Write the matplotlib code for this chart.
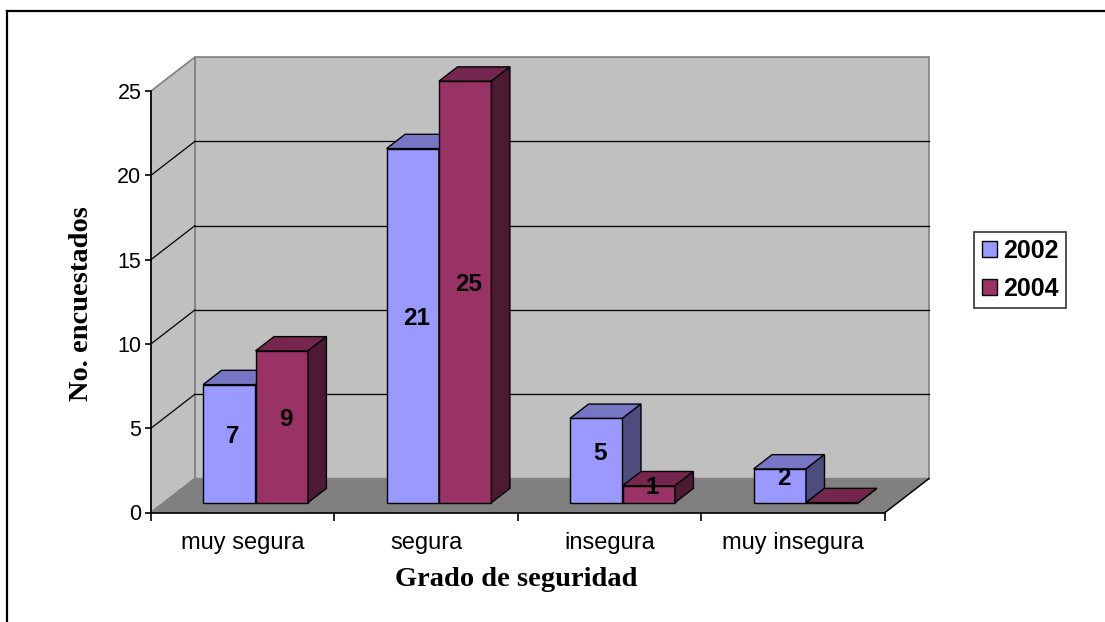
import matplotlib
matplotlib.use("Agg")
import matplotlib.pyplot as plt
from matplotlib.patches import Polygon, Patch
from matplotlib.lines import Line2D

# data
categories = ["muy segura", "segura", "insegura", "muy insegura"]
series_names = ["2002", "2004"]
values_2002 = [7, 21, 5, 2]
values_2004 = [9, 25, 1, 0]
y_ticks = [0, 5, 10, 15, 20, 25]

front_colors = ["#9999FF", "#993366"]
top_colors = ["#7676C4", "#74264E"]
side_colors = ["#4D4D80", "#4D1A33"]

W, H = 1105, 622
fig = plt.figure(figsize=(W / 100, H / 100), dpi=100)
fig.patch.set_facecolor("white")

# front plot area in pixels
x_left, x_right = 151, 885
y_zero, y_top = 512.5, 91
ax = fig.add_axes([x_left / W, (H - y_zero) / H, (x_right - x_left) / W, (y_zero - y_top) / H])
ax.set_xlim(0, len(categories))
ax.set_ylim(0, 25)
ax.patch.set_visible(False)

# depth offset (full depth) in data units
px_per_cat = (x_right - x_left) / len(categories)
px_per_val = (y_zero - y_top) / 25
DX = 44 / px_per_cat
DY = 34 / px_per_val


def p3(x, y, z):
    return (x + z * DX, y + z * DY)


def face(pts, fc, ec="black", lw=1.0, zorder=1):
    poly = Polygon([p3(*p) for p in pts], closed=True, facecolor=fc,
                   edgecolor=ec, linewidth=lw, clip_on=False, zorder=zorder)
    ax.add_patch(poly)


def line3(a, b, color="black", lw=0.9, zorder=1.2):
    pa, pb = p3(*a), p3(*b)
    ax.add_line(Line2D([pa[0], pb[0]], [pa[1], pb[1]], color=color, lw=lw,
                       clip_on=False, zorder=zorder))


n = len(categories)
ymax = y_ticks[-1]
# walls and floor
face([(0, 0, 1), (n, 0, 1), (n, ymax, 1), (0, ymax, 1)], "#C0C0C0", "#808080", 1.2, 0.5)
face([(0, 0, 0), (0, ymax, 0), (0, ymax, 1), (0, 0, 1)], "#C0C0C0", "#808080", 1.2, 0.6)
face([(0, 0, 0), (n, 0, 0), (n, 0, 1), (0, 0, 1)], "#808080", "#808080", 1.0, 0.7)
line3((n, 0, 0), (n, 0, 1), "black", 1.0)
for v in y_ticks[1:-1]:
    line3((0, v, 1), (n, v, 1))
    line3((0, v, 0), (0, v, 1))

# bars
bw = 1 / 3.5
z0, z1 = 0.29, 0.71
for i in range(n):
    for j, vals in enumerate([values_2002, values_2004]):
        v = vals[i]
        xa = i + (0.75 + j) * bw
        xb = xa + bw
        face([(xa, 0, z0), (xb, 0, z0), (xb, v, z0), (xa, v, z0)], front_colors[j], zorder=2)
        face([(xa, v, z0), (xb, v, z0), (xb, v, z1), (xa, v, z1)], top_colors[j], zorder=2)
        face([(xb, 0, z0), (xb, 0, z1), (xb, v, z1), (xb, v, z0)], side_colors[j], zorder=2)
        if v > 0:
            lx, _ = p3((xa + xb) / 2, 0, z0)
            _, ly = p3(0, v / 2, 0.5)
            ax.text(lx + 0.02, ly, str(v), ha="center", va="center", fontsize=17.5,
                    fontweight="bold", family="Liberation Sans", zorder=3)

# axes, ticks
for s in ["top", "right"]:
    ax.spines[s].set_visible(False)
for s in ["left", "bottom"]:
    ax.spines[s].set_linewidth(1.2)
ax.set_yticks(y_ticks)
ax.set_yticklabels([str(t) for t in y_ticks], fontsize=15.5, family="Liberation Sans")
ax.tick_params(axis="y", direction="out", length=4, width=1.2, pad=3)
ax.set_xticks([i + 0.5 for i in range(n)])
ax.set_xticklabels(categories, fontsize=17, family="Liberation Sans")
ax.set_xticks(range(n + 1), minor=True)
ax.tick_params(axis="x", which="major", length=0, pad=14)
ax.tick_params(axis="x", which="minor", direction="out", length=6, width=1.2)

fig.text(82 / W, 1 - 304 / H, "No. encuestados", rotation=90, ha="center", va="center",
         fontsize=20.5, fontweight="bold", family="Liberation Serif")
fig.text(516 / W, 1 - 580 / H, "Grado de seguridad", ha="center", va="center",
         fontsize=20.5, fontweight="bold", family="Liberation Serif")

# legend
handles = [Patch(facecolor=front_colors[k], edgecolor="black", linewidth=1) for k in range(2)]
leg = fig.legend(handles, series_names, loc="center", bbox_to_anchor=(1020 / W, 1 - 270 / H),
                 frameon=True, fancybox=False, shadow=False, handlelength=0.6,
                 handleheight=0.6, handletextpad=0.25, borderpad=0.3, labelspacing=0.55,
                 borderaxespad=0, prop={"family": "Liberation Sans", "weight": "bold", "size": 18})
leg.get_frame().set_edgecolor("black")
leg.get_frame().set_linewidth(1.2)

# outer border (top and left)
fig.add_artist(Line2D([7 / W, 7 / W], [0, 1 - 11 / H], color="black", lw=1.6,
                      transform=fig.transFigure))
fig.add_artist(Line2D([7 / W, 1], [1 - 11 / H, 1 - 11 / H], color="black", lw=1.6,
                      transform=fig.transFigure))

fig.savefig("out.png", dpi=100)
